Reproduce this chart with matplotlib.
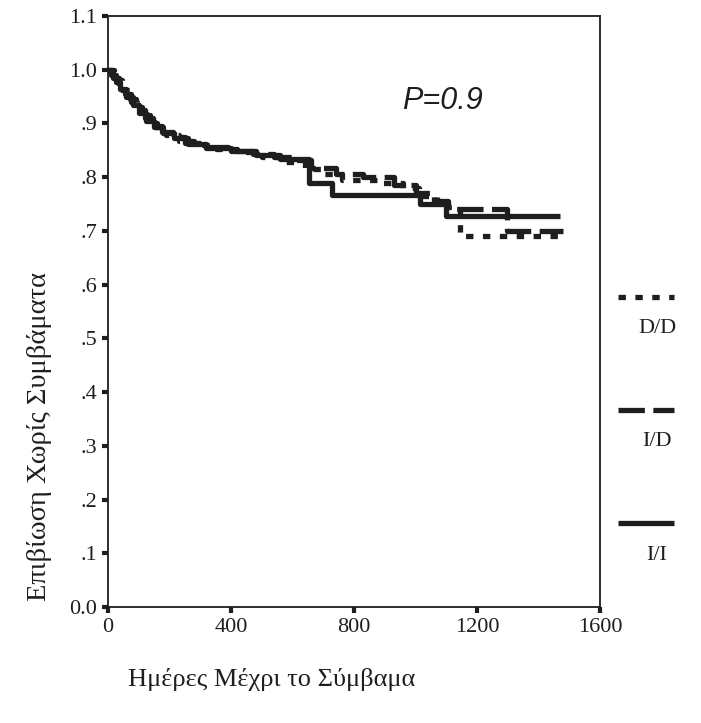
import matplotlib.pyplot as plt
from matplotlib.lines import Line2D
from matplotlib.ticker import FuncFormatter

# Kaplan-Meier step data (days, survival)
dd_days = [0, 20, 45, 70, 90, 110, 135, 160, 190, 230, 280, 340, 420, 500, 560, 640, 700, 760, 880, 960, 1010, 1070, 1145, 1480]
dd_surv = [1.0, 0.98, 0.962, 0.945, 0.93, 0.915, 0.90, 0.888, 0.878, 0.868, 0.86, 0.852, 0.846, 0.838, 0.828, 0.815, 0.805, 0.795, 0.79, 0.78, 0.765, 0.745, 0.69, 0.69]

id_days = [0, 15, 35, 55, 75, 95, 120, 145, 175, 210, 250, 310, 390, 470, 540, 610, 660, 740, 830, 930, 1000, 1060, 1105, 1297, 1480]
id_surv = [1.0, 0.985, 0.97, 0.955, 0.94, 0.925, 0.91, 0.895, 0.885, 0.874, 0.864, 0.856, 0.849, 0.843, 0.838, 0.832, 0.818, 0.806, 0.80, 0.785, 0.77, 0.755, 0.74, 0.70, 0.70]

ii_days = [0, 10, 25, 40, 60, 80, 100, 125, 150, 180, 215, 260, 320, 400, 480, 560, 655, 730, 1015, 1100, 1470]
ii_surv = [1.0, 0.99, 0.978, 0.965, 0.95, 0.935, 0.92, 0.905, 0.893, 0.882, 0.872, 0.862, 0.855, 0.848, 0.842, 0.833, 0.79, 0.767, 0.75, 0.728, 0.728]

groups = ['D/D', 'I/D', 'I/I']
styles = [(0, (1.4, 1.8)), (0, (5, 1.6)), '-']

serif = ['Liberation Serif', 'DejaVu Serif']
ink = '#1e1e1e'

fig = plt.figure(figsize=(7.01, 7.23), dpi=100)
ax = fig.add_axes([108 / 701, 1 - 607 / 723, 492 / 701, 591 / 723])

for d, s, ls in zip([dd_days, id_days, ii_days], [dd_surv, id_surv, ii_surv], styles):
    ax.step(d, s, where='post', color=ink, lw=3.8, ls=ls, dash_capstyle='butt', solid_capstyle='butt')

ax.set_xlim(0, 1600)
ax.set_ylim(0, 1.1)
ax.set_xticks([0, 400, 800, 1200, 1600])
ax.set_yticks([i / 10 for i in range(12)])

def ylab(v, pos):
    if v < 0.05:
        return '0.0'
    if v > 0.95:
        return '%.1f' % v
    return ('%.1f' % v)[1:]

ax.yaxis.set_major_formatter(FuncFormatter(ylab))
ax.tick_params(length=4, width=3, color=ink, labelsize=16, pad=4)
for lab in ax.get_xticklabels() + ax.get_yticklabels():
    lab.set_family(serif)
    lab.set_color(ink)
for sp in ax.spines.values():
    sp.set_linewidth(1.3)
    sp.set_color(ink)

ax.set_xlabel('Ημέρες Μέχρι το Σύμβαμα', family=serif, fontsize=19, color=ink)
ax.xaxis.set_label_coords(0.333, -0.103)
ax.set_ylabel('Επιβίωση Χωρίς Συμβάματα', family=serif, fontsize=20.5, color=ink)
ax.yaxis.set_label_coords(-0.114, 0.289)

ax.text(1087, 0.942, 'P=0.9', family=['Liberation Sans', 'DejaVu Sans'], style='italic',
        fontsize=22, color=ink, ha='center', va='center')

# legend drawn to the right of the plot: sample line, label below it
for i, (name, ls) in enumerate(zip(groups, styles)):
    y = 1 - (297 + i * 113) / 723
    fig.add_artist(Line2D([618 / 701, 674 / 701], [y, y], color=ink, lw=3.8, ls=ls,
                          dash_capstyle='butt', solid_capstyle='butt'))
    fig.text(657 / 701, y - 32 / 723, name, family=serif, fontsize=16, color=ink,
             ha='center', va='center')

fig.savefig('out.png', dpi=100)
